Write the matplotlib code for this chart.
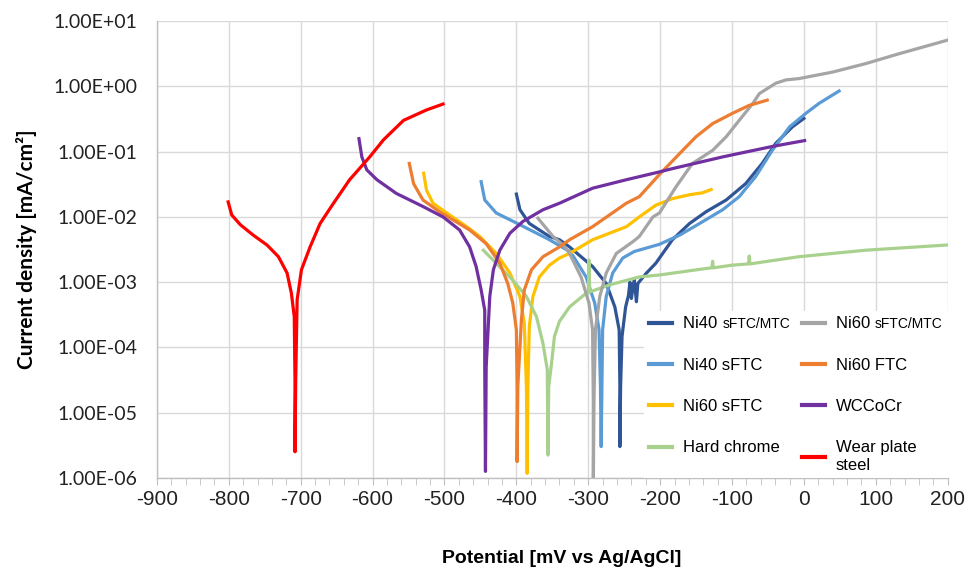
import numpy as np
import matplotlib
matplotlib.use("Agg")
import matplotlib.pyplot as plt
from matplotlib.ticker import MultipleLocator, FuncFormatter
from matplotlib.font_manager import FontProperties
from matplotlib.offsetbox import TextArea, HPacker

plt.rcParams["axes.unicode_minus"] = False

# potential (mV vs Ag/AgCl) and log10 of current density (mA/cm2)
ni40_mtc_E = [-400, -395, -382, -354, -340, -326, -294, -275, -263, -257, -256, -256, -255, -253, -248,
              -244, -242, -240, -236, -233, -231, -219, -206, -183, -159, -136, -108, -81, -58, -39, -16, 0]
ni40_mtc_logi = [-1.65, -1.89, -2.10, -2.30, -2.35, -2.46, -2.76, -3.02, -3.38, -3.73, -4.6, -5.52, -4.6, -3.83,
                 -3.38, -3.20, -3.00, -3.25, -2.95, -3.30, -3.02, -2.86, -2.71, -2.35, -2.10, -1.92, -1.74,
                 -1.49, -1.18, -0.87, -0.62, -0.49]

ni60_mtc_E = [-370, -349, -335, -326, -310, -299, -294, -293, -293, -292, -290, -284, -275, -261, -238, -229,
              -210, -201, -178, -155, -127, -108, -90, -71, -62, -39, -25, -7, 40, 86, 132, 200]
ni60_mtc_logi = [-2.02, -2.30, -2.43, -2.56, -2.92, -3.32, -3.73, -4.8, -6.2, -4.8, -3.73, -3.22, -2.86, -2.56,
                 -2.38, -2.30, -2.00, -1.94, -1.54, -1.18, -0.98, -0.77, -0.52, -0.26, -0.11, 0.05, 0.10,
                 0.12, 0.22, 0.35, 0.50, 0.71]

ni40_sftc_E = [-449, -444, -428, -395, -354, -326, -321, -303, -291, -285, -283, -282, -281, -280, -275, -266,
               -252, -236, -201, -173, -145, -113, -90, -67, -44, -20, 3, 21, 49]
ni40_sftc_logi = [-1.46, -1.74, -1.94, -2.12, -2.35, -2.53, -2.60, -2.92, -3.32, -3.73, -4.6, -5.52, -4.6, -3.73,
                  -3.22, -2.86, -2.63, -2.53, -2.42, -2.28, -2.10, -1.89, -1.69, -1.38, -0.98, -0.62, -0.41,
                  -0.26, -0.07]

ni60_ftc_E = [-549, -543, -530, -507, -465, -442, -423, -412, -405, -400, -399, -399, -398, -393, -389, -379,
              -363, -340, -326, -294, -247, -229, -201, -173, -150, -127, -99, -76, -51]
ni60_ftc_logi = [-1.18, -1.49, -1.74, -1.92, -2.20, -2.41, -2.71, -3.02, -3.32, -3.73, -4.6, -5.75, -4.6, -3.58,
                 -3.12, -2.81, -2.61, -2.46, -2.35, -2.15, -1.79, -1.69, -1.35, -1.03, -0.77, -0.57, -0.41,
                 -0.29, -0.21]

ni60_sftc_E = [-529, -525, -516, -493, -469, -451, -428, -409, -395, -389, -386, -385, -384, -382, -377, -368,
               -354, -340, -326, -294, -247, -229, -206, -183, -159, -141, -129]
ni60_sftc_logi = [-1.33, -1.59, -1.79, -1.97, -2.15, -2.30, -2.56, -2.86, -3.22, -3.63, -4.6, -5.93, -4.6, -3.68,
                  -3.22, -2.92, -2.74, -2.63, -2.56, -2.35, -2.15, -2.00, -1.82, -1.72, -1.66, -1.63, -1.58]

wccocr_E = [-619, -615, -608, -594, -567, -530, -502, -479, -465, -456, -449, -444, -444, -443, -442, -437,
            -432, -423, -409, -391, -363, -340, -294, -247, -201, -183, -113, -44, 1]
wccocr_logi = [-0.80, -1.08, -1.28, -1.43, -1.64, -1.84, -2.00, -2.20, -2.46, -2.76, -3.12, -3.43, -4.3, -5.90,
               -4.3, -3.22, -2.81, -2.51, -2.25, -2.07, -1.89, -1.79, -1.56, -1.43, -1.31, -1.26, -1.08,
               -0.92, -0.83]

chrome_E = [-446, -428, -405, -386, -372, -363, -357, -356, -355, -351, -347, -340, -326, -303, -300, -299,
            -298, -270, -229, -201, -136, -128, -127, -126, -100, -77, -76, -75, -7, 21, 86, 200]
chrome_logi = [-2.51, -2.71, -2.97, -3.22, -3.53, -3.94, -4.34, -5.65, -4.6, -4.24, -3.83, -3.60, -3.38, -3.17,
               -3.16, -2.66, -3.15, -3.04, -2.92, -2.89, -2.79, -2.78, -2.68, -2.78, -2.74, -2.72, -2.60,
               -2.72, -2.61, -2.58, -2.51, -2.43]

steel_E = [-801, -796, -784, -766, -747, -731, -719, -713, -709, -708, -708, -707, -705, -699, -687, -673,
           -655, -632, -604, -585, -557, -525, -502]
steel_logi = [-1.77, -1.97, -2.12, -2.28, -2.43, -2.61, -2.86, -3.17, -3.53, -4.5, -5.60, -4.5, -3.27, -2.81,
              -2.46, -2.10, -1.80, -1.43, -1.08, -0.82, -0.52, -0.36, -0.27]

series = [
    ("Ni40 sFTC/MTC", ni40_mtc_E, ni40_mtc_logi, "#2F5597"),
    ("Ni40 sFTC", ni40_sftc_E, ni40_sftc_logi, "#5B9BD5"),
    ("Ni60 sFTC", ni60_sftc_E, ni60_sftc_logi, "#FFC000"),
    ("Hard chrome", chrome_E, chrome_logi, "#A9D18E"),
    ("Ni60 sFTC/MTC", ni60_mtc_E, ni60_mtc_logi, "#A5A5A5"),
    ("Ni60 FTC", ni60_ftc_E, ni60_ftc_logi, "#ED7D31"),
    ("WCCoCr", wccocr_E, wccocr_logi, "#7030A0"),
    ("Wear plate\nsteel", steel_E, steel_logi, "#FF0000"),
]

fig = plt.figure(figsize=(9.66, 5.73), dpi=100)
ax = fig.add_axes([0.1625, 0.166, 0.8185, 0.797])

handles = []
for name, E, logi, c in series:
    h, = ax.plot(E, 10.0 ** np.array(logi), color=c, linewidth=2.3, solid_joinstyle="round", label=name)
    handles.append(h)

ax.set_yscale("log")
ax.set_ylim(1e-6, 1e1)
ax.set_xlim(-900, 200)
ax.xaxis.set_major_locator(MultipleLocator(100))
ax.xaxis.set_minor_locator(MultipleLocator(20))
ax.yaxis.set_major_formatter(FuncFormatter(lambda v, p: f"{v:.2E}"))
ax.yaxis.set_minor_locator(plt.NullLocator())

ax.grid(True, which="major", color="#D9D9D9", linewidth=1.0)
ax.set_axisbelow(True)
for s in ["top", "right"]:
    ax.spines[s].set_visible(False)
for s in ["left", "bottom"]:
    ax.spines[s].set_color("#BFBFBF")
    ax.spines[s].set_linewidth(1.0)

ax.tick_params(axis="y", length=0, pad=14, labelsize=14, labelcolor="#222222")
ax.tick_params(axis="x", which="both", direction="out", length=5, color="#BFBFBF",
               labelsize=15, pad=4, labelcolor="#222222")
for lab in ax.get_yticklabels():
    lab.set_family(["Lato", "DejaVu Sans"])
for lab in ax.get_xticklabels():
    lab.set_family(["Liberation Sans Narrow", "Liberation Sans", "DejaVu Sans"])

ax.set_ylabel("Current density [mA/cm²]", fontsize=15, fontweight="bold",
              family=["Lato", "DejaVu Sans"], labelpad=12)
ax.set_xlabel("Potential [mV vs Ag/AgCl]", fontsize=14, fontweight="bold",
              family=["Liberation Sans", "DejaVu Sans"])
ax.xaxis.set_label_coords(0.512, -0.158)

big = FontProperties(family=["Liberation Sans", "DejaVu Sans"], size=12)
small = FontProperties(family=["Liberation Sans", "DejaVu Sans"], size=10)
leg = ax.legend(handles=handles, ncol=2, loc="lower right", bbox_to_anchor=(1.0, 0.0),
                frameon=True, facecolor="white", edgecolor="none", framealpha=1.0, fancybox=False,
                handlelength=1.4, labelspacing=1.58, columnspacing=0.7, handletextpad=0.66,
                borderpad=0.3, borderaxespad=0.0, prop=big)
for line in leg.get_lines():
    line.set_linewidth(3)

# smaller type for the "sFTC/MTC" part of two labels
for col in leg._legend_handle_box.get_children():
    for item in col.get_children():
        kids = item.get_children()
        txt = kids[1].get_text()
        if txt.endswith("/MTC"):
            head, tail = txt.split(" ", 1)
            kids[1] = HPacker(children=[
                TextArea(head + " ", textprops=dict(fontproperties=big, va="baseline")),
                TextArea(tail, textprops=dict(fontproperties=small, va="baseline")),
            ], align="baseline", pad=0, sep=0)
            kids[1].set_figure(fig)

fig.savefig("out.png", dpi=100)
